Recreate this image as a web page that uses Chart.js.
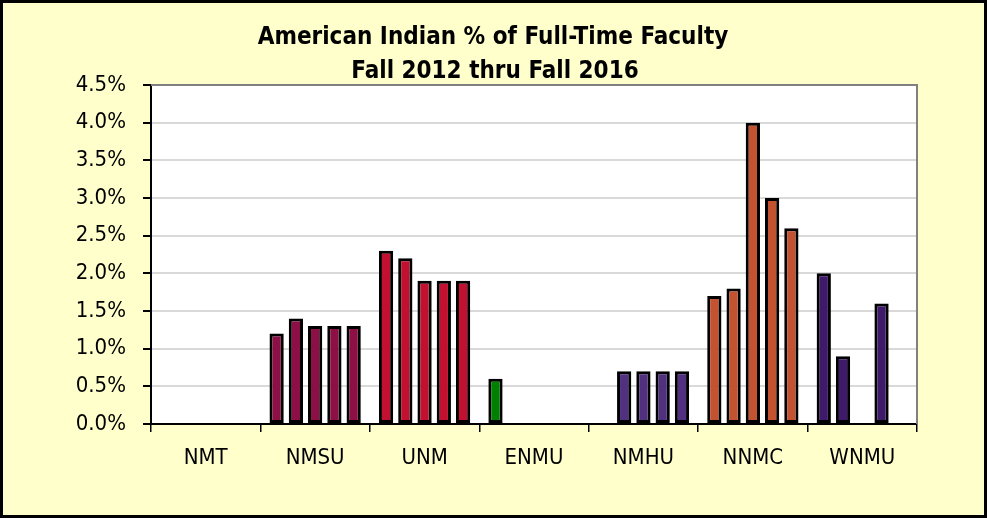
<!DOCTYPE html>
<html>
<head>
<meta charset="utf-8">
<script src="https://cdn.jsdelivr.net/npm/chart.js@4.4.1/dist/chart.umd.min.js"></script>
<style>
    html, body { margin: 0; padding: 0; background: #FFFFCC; }
    #wrap { width: 987px; height: 518px; }
</style>
</head>
<body>
<div id="wrap"><canvas id="grafico" width="987" height="518"></canvas></div>
<script>

// DATOS
const escuelas = ['NMT', 'NMSU', 'UNM', 'ENMU', 'NMHU', 'NNMC', 'WNMU'];

const fall2012 = [null, 1.2, 2.3, 0.6, null, 1.7, 2.0];
const fall2013 = [null, 1.4, 2.2, null, 0.7, 1.8, 0.9];
const fall2014 = [null, 1.3, 1.9, null, 0.7, 4.0, null];
const fall2015 = [null, 1.3, 1.9, null, 0.7, 3.0, 1.6];
const fall2016 = [null, 1.3, 1.9, null, 0.7, 2.6, null];

const semestres = ['Fall 2012', 'Fall 2013', 'Fall 2014', 'Fall 2015', 'Fall 2016'];

const colores = ['#8C1045', '#8C1045', '#C21030', '#008000', '#50307F', '#C35230', '#401A6A'];

const tituloLineas = ['American Indian % of Full-Time Faculty', 'Fall 2012 thru Fall 2016'];

const fuente = '"DejaVu Sans Condensed", "Liberation Sans", sans-serif';

// FONDO Y MARCO
const fondo = {
    id: 'fondo',
    beforeDraw(chart) {
        const ctx = chart.ctx;
        const a = chart.chartArea;
        ctx.save();
        ctx.fillStyle = '#FFFFCC';
        ctx.fillRect(0, 0, chart.width, chart.height);
        ctx.strokeStyle = '#000';
        ctx.lineWidth = 3;
        ctx.strokeRect(1.5, 1.5, chart.width - 3, chart.height - 3);
        ctx.fillStyle = '#FFFFFF';
        ctx.fillRect(a.left, a.top, a.right - a.left, a.bottom - a.top);
        ctx.restore();
    },
    beforeDatasetsDraw(chart) {
        const ctx = chart.ctx;
        const a = chart.chartArea;
        ctx.save();
        ctx.strokeStyle = '#808080';
        ctx.lineWidth = 2;
        ctx.beginPath();
        ctx.moveTo(a.left, a.top);
        ctx.lineTo(a.right, a.top);
        ctx.lineTo(a.right, a.bottom);
        ctx.stroke();
        ctx.restore();
    },
    afterDraw(chart) {
        const ctx = chart.ctx;
        ctx.save();
        ctx.fillStyle = '#000';
        ctx.font = 'bold 24px ' + fuente;
        ctx.textAlign = 'center';
        ctx.textBaseline = 'middle';
        ctx.fillText(tituloLineas[0], 493, 38);
        ctx.fillText(tituloLineas[1], 495, 72);
        ctx.restore();
    }
};

const series = [fall2012, fall2013, fall2014, fall2015, fall2016];

new Chart(
    document.getElementById('grafico'),
    {
        type: 'bar',

        data: {
            labels: escuelas,
            datasets: series.map((valores, i) => ({
                label: semestres[i],
                data: valores,
                backgroundColor: colores,
                borderColor: '#000',
                borderWidth: 3,
                borderSkipped: false,
                categoryPercentage: 0.88,
                barPercentage: 0.74
            }))
        },

        options: {
            responsive: false,
            animation: false,
            layout: {
                padding: { left: 0, top: 85, right: 70, bottom: 0 }
            },
            plugins: {
                legend: { display: false },
                title: { display: false },
                tooltip: { enabled: false }
            },
            scales: {
                x: {
                    afterFit(scale) { scale.height = 94; },
                    grid: {
                        drawOnChartArea: false,
                        color: '#000',
                        tickLength: 8,
                        lineWidth: 1.5
                    },
                    border: { color: '#000', width: 2 },
                    ticks: {
                        color: '#000',
                        padding: 13,
                        font: { family: fuente, size: 22 }
                    }
                },
                y: {
                    min: 0,
                    max: 4.5,
                    afterFit(scale) { scale.width = 151; },
                    grid: {
                        color: '#D9D9D9',
                        tickColor: '#000',
                        tickLength: 8,
                        lineWidth: 2
                    },
                    border: { color: '#000', width: 2 },
                    ticks: {
                        stepSize: 0.5,
                        color: '#000',
                        padding: 17,
                        font: { family: fuente, size: 22 },
                        callback: v => v.toFixed(1) + '%'
                    }
                }
            }
        },

        plugins: [fondo]
    }
);
</script>
</body>
</html>
